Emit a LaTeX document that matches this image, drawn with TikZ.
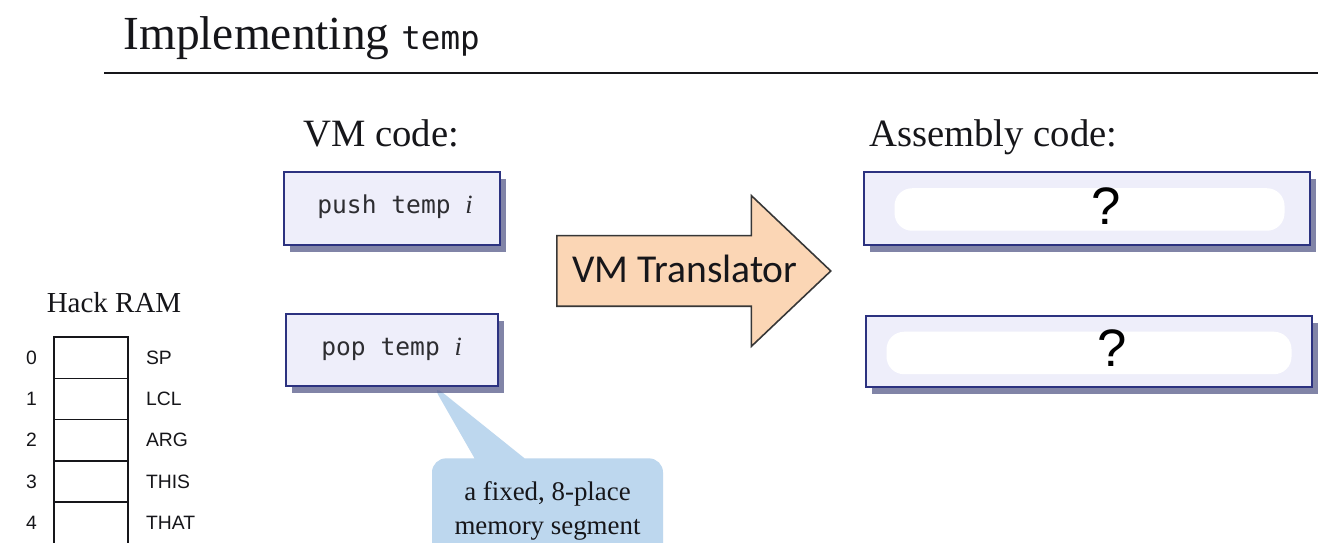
\documentclass[tikz,border=0pt]{standalone}
\usepackage{fontspec}
\setmainfont{Liberation Serif}
\setsansfont{Liberation Sans}
\setmonofont{DejaVu Sans Mono}
\newfontfamily\calibrifont{Carlito}
\usetikzlibrary{shapes.arrows, shapes.callouts, shadows, positioning, calc, backgrounds}
\definecolor{cBox}{RGB}{238, 238, 250}
\definecolor{bBox}{RGB}{44, 50, 128}
\definecolor{cShadow}{RGB}{88, 92, 138}
\definecolor{cArrow}{RGB}{251, 214, 181}
\definecolor{bArrow}{RGB}{55, 55, 55}
\definecolor{cNote}{RGB}{189, 215, 238}
\definecolor{tDark}{RGB}{22, 22, 26}

\begin{document}
\begin{tikzpicture}[
    heading/.style={font=\fontsize{22}{24}\selectfont, text=tDark, anchor=base west, inner sep=0pt},
    codebox/.style={
        draw=bBox,
        fill=cBox,
        line width=1.2pt,
        drop shadow={shadow xshift=3.5pt, shadow yshift=-4pt, fill=cShadow, opacity=0.75},
        inner sep=0pt
    },
    codetext/.style={font=\ttfamily\fontsize{14}{16}\selectfont, text=tDark!90, inner sep=0pt},
    blob/.style={fill=white, rounded corners=10pt, minimum width=7.8cm, minimum height=0.85cm, inner sep=0pt},
    qmark/.style={font=\sffamily\fontsize{30}{30}\selectfont, text=black, inner sep=0pt},
    ramcell/.style={draw=tDark, line width=0.8pt, minimum width=1.48cm, minimum height=0.826cm, inner sep=0pt},
    ramtext/.style={font=\sffamily\fontsize{11}{12}\selectfont, text=tDark, inner sep=0pt}
]
\useasboundingbox (0,0) rectangle (26.68,10.86);

% Title
\node[font=\fontsize{27}{30}\selectfont, text=tDark, anchor=base west, inner sep=0pt] (title) at (2.46, 9.86)
    {Implementing {\ttfamily\fontsize{18.5}{20}\selectfont temp}};
\coordinate (rule_l) at (2.08, 9.40);
\coordinate (rule_r) at (26.36, 9.40);
\draw[line width=1.4pt, tDark] (rule_l) -- (rule_r);

% Sub-headers
\node[heading] (sub_vm) at (6.06, 7.92) {VM code:};
\node[heading] (sub_asm) at (17.38, 7.92) {Assembly code:};

% VM code boxes
\node[codebox, minimum width=4.32cm, minimum height=1.46cm] (vm_push) at (7.84, 6.69) {};
\node[codetext, anchor=base west] (vm_push_txt) at (6.34, 6.58) {push temp {\rmfamily\itshape\fontsize{15}{15}\selectfont i}};

\node[codebox, minimum width=4.24cm, minimum height=1.44cm] (vm_pop) at (7.84, 3.86) {};
\node[codetext, anchor=base west] (vm_pop_txt) at (6.42, 3.75) {pop temp {\rmfamily\itshape\fontsize{15}{15}\selectfont i}};

% Translator arrow
\node[single arrow, draw=bArrow, fill=cArrow, line width=0.9pt,
      single arrow head extend=0.8cm, single arrow tip angle=87,
      minimum height=5.48cm, text height=0pt, text depth=0pt,
      inner xsep=0pt, inner ysep=0.69cm, anchor=tail] (xlate) at (11.12, 5.44) {};
\node[font=\calibrifont\fontsize{22.5}{26}\selectfont, text=tDark, anchor=base west, inner sep=0pt] (xlate_txt)
    at ($(xlate.tail)+(0.32,-0.24)$) {VM Translator};

% Assembly boxes
\node[codebox, minimum width=8.92cm, minimum height=1.46cm] (asm_push) at (21.74, 6.69) {};
\node[codebox, minimum width=8.92cm, minimum height=1.42cm] (asm_pop) at (21.78, 3.83) {};
\node[blob] (blob_push) at ($(asm_push)+(0.05,-0.02)$) {};
\node[blob, minimum width=8.1cm] (blob_pop) at ($(asm_pop)+(0.0,-0.03)$) {};
\node[qmark] (q_push) at (22.12, 6.73) {?};
\node[qmark] (q_pop) at (22.24, 3.90) {?};

% Hack RAM
\node[font=\fontsize{16.5}{18}\selectfont, text=tDark, anchor=base, inner sep=0pt] (ram_title) at (2.28, 4.60) {Hack RAM};
\foreach \r/\reg in {0/SP, 1/LCL, 2/ARG, 3/THIS, 4/THAT} {
    \node[ramcell] (cell\r) at (1.82, {4.12-0.826*(\r+0.5)}) {};
    \node[ramtext, left=0.32cm of cell\r] (addr\r) {\r};
    \node[ramtext, right=0.34cm of cell\r] (reg\r) {\reg};
}

% Callout behind the boxes
\begin{scope}[on background layer]
    \fill[white] (0,0) rectangle (26.68,10.86);
    \node[rectangle callout, fill=cNote, rounded corners=8pt,
          callout absolute pointer={($(vm_pop.south)+(0.8,0.06)$)}, callout pointer width=1cm,
          minimum width=4.62cm, inner ysep=0.47cm, align=center, anchor=north,
          font=\fontsize{15.3}{19.3}\selectfont, text=tDark] (note) at (10.95, 1.70)
        {a fixed, 8-place\\memory segment};
\end{scope}

\end{tikzpicture}
\end{document}
